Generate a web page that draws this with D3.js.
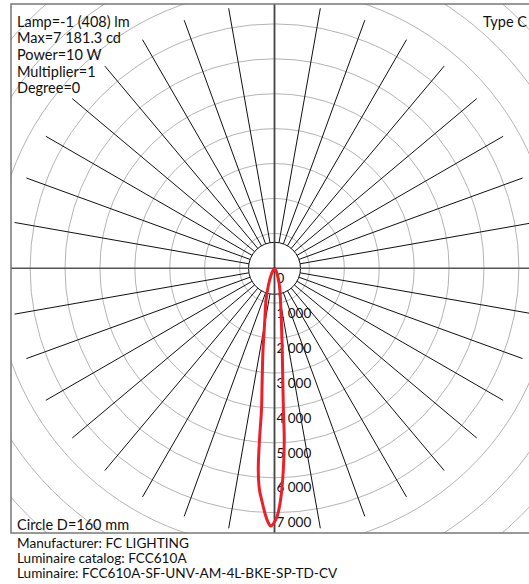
<!DOCTYPE html>
<html>
<head>
<meta charset="utf-8">
<script src="https://cdn.jsdelivr.net/npm/d3@7"></script>
<style>
  body { margin: 0; background: #fff; }
  text { font-family: Lato, "Open Sans", sans-serif; fill: #111; }
</style>
</head>
<body>
<script>
// Header / footer texts
const infoLines = ["Lamp=-1 (408) lm", "Max=7 181.3 cd", "Power=10 W", "Multiplier=1", "Degree=0"];
const footerLines = ["Manufacturer: FC LIGHTING", "Luminaire catalog: FCC610A", "Luminaire: FCC610A-SF-UNV-AM-4L-BKE-SP-TD-CV"];

// intensity rings (cd) that get a label
const ringValues = [0, 1000, 2000, 3000, 4000, 5000, 6000, 7000];
const ringLabels = ["0", "1 000", "2 000", "3 000", "4 000", "5 000", "6 000", "7 000"];

// C0 half-plane (drawn right of nadir): gamma in degrees, intensity in cd
const c0Gamma  = [0,    0.7,  1.5,  2.5,  3.25, 3.6,  4.25, 5.4,  7.5,  10,   14,  20,  30,  45, 60, 180];
const c0Values = [7267, 7067, 6640, 5783, 4926, 4067, 3208, 2351, 1500, 1000, 640, 330, 100, 20, 0,  0];

// C180 half-plane (drawn left of nadir)
const c180Gamma  = [0,    0.84, 1.47, 2.1,  3.16, 3.87, 4.6,  5.0,  5.25, 6.3,  8.0,  10.6, 15,  20,  30,  45, 60, 180];
const c180Values = [7267, 7382, 7270, 7072, 6648, 6365, 5796, 4937, 4076, 3219, 2363, 1507, 940, 500, 150, 30, 0,  0];

const width = 529, height = 584;
const cx = 274.5, cy = 268.3;
const box = {x: 11, y: 4, w: 527, h: 529};

const svg = d3.select("body").append("svg")
  .attr("width", width)
  .attr("height", height);

svg.append("defs").append("clipPath").attr("id", "box-clip")
  .append("rect")
  .attr("x", box.x).attr("y", box.y)
  .attr("width", box.w).attr("height", box.h);

// 1000 cd = ~34.9 px
const r = d3.scaleLinear().domain([0, 7000]).range([0, 244.4]);

const g = svg.append("g")
  .attr("clip-path", "url(#box-clip)")
  .append("g")
  .attr("transform", `translate(${cx},${cy})`);

// grey rings, continue past the last label until the corners
g.selectAll("circle.ring")
  .data(d3.range(1, 11).map(k => k * 1000))
  .enter().append("circle")
  .attr("class", "ring")
  .attr("r", d => r(d))
  .attr("fill", "none")
  .attr("stroke", "#b4b4b4")
  .attr("stroke-width", 1);

// black spokes every 10 degrees
const innerR = 26, outerR = 264;
const spokes = d3.range(10, 360, 10).filter(a => a % 90 !== 0);
g.selectAll("line.spoke")
  .data(spokes)
  .enter().append("line")
  .attr("class", "spoke")
  .attr("x1", a => innerR * Math.sin(a * Math.PI / 180))
  .attr("y1", a => -innerR * Math.cos(a * Math.PI / 180))
  .attr("x2", a => outerR * Math.sin(a * Math.PI / 180))
  .attr("y2", a => -outerR * Math.cos(a * Math.PI / 180))
  .attr("stroke", "#111")
  .attr("stroke-width", 1);

g.append("circle")
  .attr("r", innerR)
  .attr("fill", "none")
  .attr("stroke", "#111")
  .attr("stroke-width", 1);

// axes
g.append("line")
  .attr("x1", -400).attr("x2", 400).attr("y1", 0).attr("y2", 0)
  .attr("stroke", "#555").attr("stroke-width", 1.6);
g.append("line")
  .attr("x1", 0).attr("x2", 0).attr("y1", -400).attr("y2", 400)
  .attr("stroke", "#444").attr("stroke-width", 1.8);

// ring labels
g.selectAll("text.ringlabel")
  .data(ringValues)
  .enter().append("text")
  .attr("class", "ringlabel")
  .attr("x", 2)
  .attr("y", d => r(d) + 14.7)
  .style("font-size", "13.5px")
  .text((d, i) => ringLabels[i]);

// curve: C0 half to the right of nadir, C180 half to the left
const rad = Math.PI / 180;
const pts = [];
for (let i = c0Gamma.length - 1; i >= 0; i--) pts.push([Math.PI - c0Gamma[i] * rad, r(c0Values[i])]);
for (let i = 1; i < c180Gamma.length; i++) pts.push([Math.PI + c180Gamma[i] * rad, r(c180Values[i])]);

const line = d3.lineRadial()
  .angle(d => d[0])
  .radius(d => d[1])
  .curve(d3.curveCatmullRom.alpha(0.5));

g.append("path")
  .attr("d", line(pts))
  .attr("fill", "none")
  .attr("stroke", "#e8212b")
  .attr("stroke-width", 3)
  .attr("stroke-linejoin", "round");

// frame
svg.append("rect")
  .attr("x", box.x).attr("y", box.y)
  .attr("width", box.w).attr("height", box.h)
  .attr("fill", "none")
  .attr("stroke", "#777")
  .attr("stroke-width", 1.5);

// texts
svg.selectAll("text.info")
  .data(infoLines)
  .enter().append("text")
  .attr("class", "info")
  .attr("x", 17)
  .attr("y", (d, i) => 26.6 + i * 16.67)
  .style("font-size", "14.5px")
  .text(d => d);

svg.append("text")
  .attr("x", 527).attr("y", 27)
  .attr("text-anchor", "end")
  .style("font-size", "14.5px")
  .text("Type C");

svg.append("text")
  .attr("x", 17).attr("y", 529.5)
  .style("font-size", "14.5px")
  .text("Circle D=160 mm");

svg.selectAll("text.footer")
  .data(footerLines)
  .enter().append("text")
  .attr("class", "footer")
  .attr("x", 17)
  .attr("y", (d, i) => 547.7 + i * 15)
  .style("font-size", "13.6px")
  .text(d => d);
</script>
</body>
</html>
